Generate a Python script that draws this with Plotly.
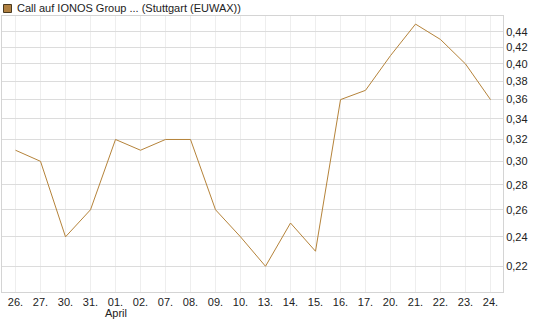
import math
import plotly.graph_objects as go

dates = ["26.", "27.", "30.", "31.", "01.", "02.", "07.", "08.", "09.", "10.",
         "13.", "14.", "15.", "16.", "17.", "20.", "21.", "22.", "23.", "24."]
prices = [0.31, 0.30, 0.24, 0.26, 0.32, 0.31, 0.32, 0.32, 0.26, 0.24,
          0.22, 0.25, 0.23, 0.36, 0.37, 0.41, 0.45, 0.43, 0.40, 0.36]
y_ticks = [0.22, 0.24, 0.26, 0.28, 0.30, 0.32, 0.34, 0.36, 0.38, 0.40, 0.42, 0.44]
month_label = "April"
month_index = 4
title = "Call auf IONOS Group ... (Stuttgart (EUWAX))"

line_color = "#B5833A"
x_idx = list(range(len(dates)))

fig = go.Figure()
fig.add_trace(go.Scatter(x=x_idx, y=prices, mode="lines",
                         line=dict(color=line_color, width=1), showlegend=False,
                         hoverinfo="skip"))

W, H = 545, 327
ml, mr, mt, mb = 2, 42, 16, 35
fig.update_layout(
    width=W, height=H,
    margin=dict(l=ml, r=mr, t=mt, b=mb, pad=0),
    paper_bgcolor="white", plot_bgcolor="white",
    separators=",.",
    font=dict(family="Liberation Sans, Arial, sans-serif", size=11, color="#222"),
    showlegend=False,
)
fig.update_xaxes(
    range=[-0.54, 19.5], tickmode="array", tickvals=x_idx, ticktext=dates,
    showgrid=True, gridcolor="#eeeeee", gridwidth=1,
    showline=True, linecolor="#d4d4d4", linewidth=1, mirror=True,
    ticks="", zeroline=False, tickfont=dict(size=11, color="#222"),
    fixedrange=True,
)
fig.update_yaxes(
    type="log", range=[math.log10(0.2039), math.log10(0.4609)],
    side="right", tickmode="array", tickvals=y_ticks,
    ticktext=[f"{v:.2f}".replace(".", ",") for v in y_ticks],
    showgrid=True, gridcolor="#dcdcdc", gridwidth=1,
    showline=True, linecolor="#d4d4d4", linewidth=1, mirror=True,
    ticks="", zeroline=False, tickfont=dict(size=11, color="#222"),
    fixedrange=True,
)

pw = W - ml - mr
ph = H - mt - mb
def px_x(p):
    return (p - ml) / pw
def px_y(p):
    return (H - mb - p) / ph

# legend square and title
fig.add_shape(type="rect", xref="paper", yref="paper",
              x0=px_x(3.5), x1=px_x(11.5), y0=px_y(12.5), y1=px_y(4.5),
              line=dict(color="#4a3a20", width=1), fillcolor="#B08040")
fig.add_annotation(text=title, xref="paper", yref="paper",
                   x=px_x(15), y=px_y(8.5), xanchor="left", yanchor="middle",
                   showarrow=False, font=dict(size=11, color="#222"))
fig.add_annotation(text=month_label, x=month_index, xref="x", yref="paper",
                   y=px_y(313), xanchor="center", yanchor="middle",
                   showarrow=False, font=dict(size=11, color="#222"))

fig.write_html("out.html")
